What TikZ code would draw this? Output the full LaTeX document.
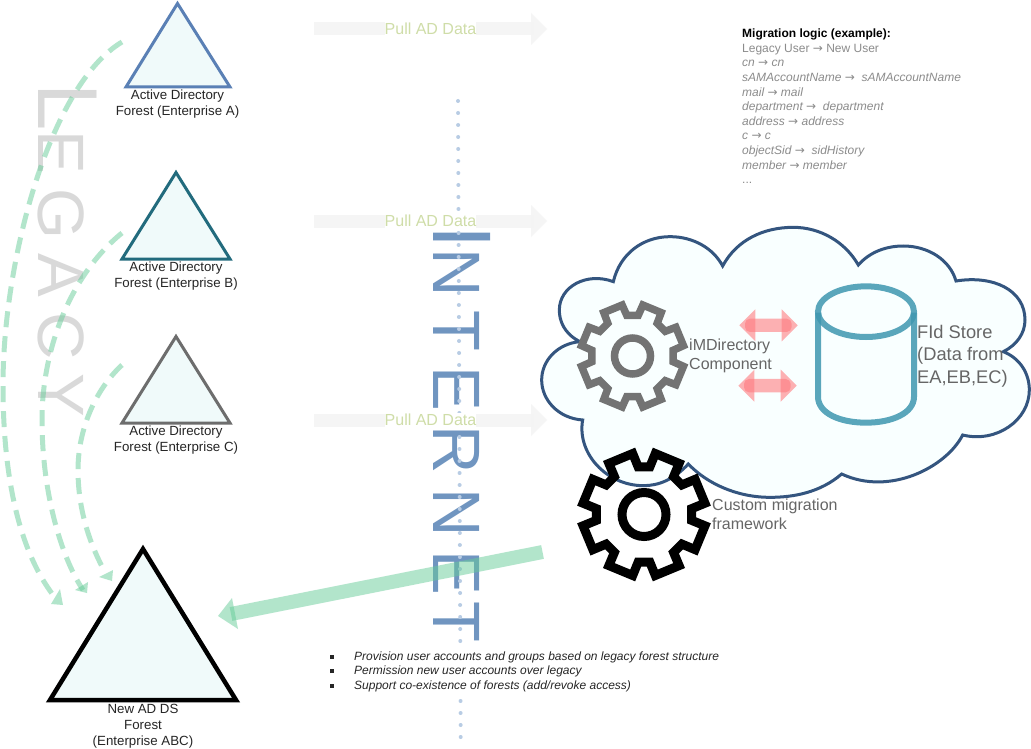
\documentclass[tikz,border=0pt]{standalone}
\usepackage{fontspec}
\setmainfont{Liberation Sans}
\newfontfamily\arrowfont{DejaVu Sans}
\newcommand{\arr}{{\arrowfont →}}
\definecolor{dashgreen}{HTML}{66CC99}
\definecolor{triafill}{HTML}{F0FAFA}
\definecolor{pullgreen}{HTML}{CFDDA8}
\definecolor{pullgrey}{HTML}{F4F4F4}
\definecolor{inetblue}{HTML}{7095C0}
\definecolor{dotblue}{HTML}{B8CCE4}
\definecolor{legacygrey}{HTML}{D9D9D9}
\definecolor{cloudedge}{HTML}{34557F}
\definecolor{cloudfill}{HTML}{F9FFFF}
\definecolor{cylcol}{HTML}{3F97B0}
\definecolor{txtgrey}{HTML}{666666}
\definecolor{logicgrey}{HTML}{8C8C8C}
\definecolor{redarrow}{HTML}{FF7C80}
\definecolor{edgea}{HTML}{5A80B5}
\definecolor{edgeb}{HTML}{226B7D}
\definecolor{edgec}{HTML}{6D6D6D}
\tikzset{
  forest/.style={line width=3pt,fill=triafill,line join=miter},
  flabel/.style={font=\fontsize{13.3}{16}\selectfont,text=black!85,align=center,inner sep=0pt},
  dashcurve/.style={draw=dashgreen,opacity=.5,line width=5pt,dash pattern=on 16pt off 9pt},
  headgreen/.style={fill=dashgreen,opacity=.5},
  pullshaft/.style={fill=pullgrey,draw=none,opacity=.85},
  pulltext/.style={font=\fontsize{16}{19}\selectfont,text=pullgreen,fill=white,inner xsep=0pt,inner ysep=1pt},
  greytext/.style={text=txtgrey,align=left,inner sep=0pt,anchor=west},
  redshaft/.style={fill=redarrow,opacity=.6},
}
\begin{document}
\begin{tikzpicture}[x=1pt,y=-1pt]
\useasboundingbox (0,0) rectangle (1031,749);
\fill[white] (0,0) rectangle (1031,749);

% LEGACY
\node[rotate=-90,anchor=base west,inner sep=0pt,text=legacygrey] (legacy) at (38,83)
  {\addfontfeature{LetterSpace=22}\fontsize{85}{90}\selectfont L\fontsize{65.5}{70}\selectfont EGACY};

% dashed curves
\coordinate (aS) at (122,42); \coordinate (aE) at (57,600);
\draw[dashcurve] (aS) .. controls (50,85) and (3,260) .. (3,385) .. controls (3,480) and (20,555) .. (aE);
\fill[headgreen] (51,604) -- (60,589) -- (63,605) -- cycle;
\coordinate (bS) at (122,233); \coordinate (bE) at (83,590);
\draw[dashcurve] (bS) .. controls (70,275) and (42,350) .. (42,420) .. controls (42,490) and (60,555) .. (bE);
\fill[headgreen] (75,590) -- (88,582) -- (87,593) -- cycle;
\coordinate (cS) at (122,365); \coordinate (cE) at (105,572);
\draw[dashcurve] (cS) .. controls (95,390) and (78,430) .. (78,470) .. controls (78,510) and (90,545) .. (cE);
\fill[headgreen] (99,577) -- (113,570) -- (112,581) -- cycle;

% forests
\draw[forest,draw=edgea] (177.5,3.5) -- (230,87) -- (126,87) -- cycle;
\draw[forest,draw=edgeb] (176,172.5) -- (230,259) -- (122,259) -- cycle;
\draw[forest,draw=edgec] (176,336.5) -- (230,423) -- (122,423) -- cycle;
\draw[forest,draw=black,line width=4.5pt] (143,549) -- (236,700) -- (50,700) -- cycle;
\node[flabel] (la) at (177.5,104) {Active Directory\\Forest (Enterprise A)};
\node[flabel] (lb) at (176,276) {Active Directory\\Forest (Enterprise B)};
\node[flabel] (lc) at (176,440) {Active Directory\\Forest (Enterprise C)};
\node[flabel] (ln) at (143,726) {New AD DS\\Forest\\(Enterprise ABC)};

% INTERNET
\node[rotate=-90,anchor=base west,inner sep=0pt,text=inetblue] (internet) at (433,225)
  {\addfontfeature{LetterSpace=21.5}\fontsize{83}{90}\selectfont I\fontsize{67}{70}\selectfont NTERNE\kern6pt T};
\coordinate (dotS) at (458,101); \coordinate (dotE) at (460.7,737);
\draw[dotblue,line width=4pt,line cap=round,dash pattern=on 0pt off 12pt] (dotS) -- (dotE);

% pull arrows
\foreach \y/\n in {29/pa,221/pb,420/pc}{
  \fill[pullshaft] (314,\y-6.5) rectangle (534,\y+6.5);
  \fill[pullshaft] (531,\y-16) -- (547,\y) -- (531,\y+16) -- cycle;
  \node[pulltext] (\n) at (430.5,\y) {Pull AD Data};
}

% migration logic
\node[anchor=north west,inner sep=0pt,align=left,text=logicgrey,font=\fontsize{12}{14.6}\selectfont] (logic) at (742,28.8)
  {\textbf{\textcolor{black}{Migration logic (example):}}\\
   Legacy User \arr\ New User\\
   \textit{cn \arr\ cn}\\
   \textit{sAMAccountName \arr\ \ sAMAccountName}\\
   \textit{mail \arr\ mail}\\
   \textit{department \arr\ \ department}\\
   \textit{address \arr\ address}\\
   \textit{c \arr\ c}\\
   \textit{objectSid \arr\ \ sidHistory}\\
   \textit{member \arr\ member}\\
   ...};

% cloud
\begin{scope}[x=.33333pt,y=-.33333pt,shift={(530pt,-220pt)}]
\draw[line width=3pt,draw=cloudedge,fill=cloudfill,line join=miter]
 (250,185) .. controls (270,100) and (340,50) .. (420,50) .. controls (490,50) and (550,85) .. (578,138)
 .. controls (620,60) and (700,22) .. (790,22) .. controls (870,22) and (945,65) .. (985,135)
 .. controls (1020,95) and (1070,78) .. (1120,78) .. controls (1195,78) and (1260,120) .. (1278,183)
 .. controls (1390,165) and (1485,210) .. (1485,300) .. controls (1485,340) and (1460,375) .. (1420,395)
 .. controls (1470,415) and (1498,460) .. (1498,510) .. controls (1498,600) and (1400,670) .. (1298,645)
 .. controls (1250,740) and (1080,830) .. (935,762)
 .. controls (870,818) and (790,832) .. (720,832) .. controls (620,832) and (530,790) .. (475,732)
 .. controls (430,780) and (385,797) .. (340,797) .. controls (230,797) and (140,700) .. (158,600)
 .. controls (85,595) and (35,540) .. (35,480) .. controls (35,420) and (85,370) .. (150,365)
 .. controls (100,340) and (88,300) .. (88,270) .. controls (88,200) and (170,155) .. (250,185) -- cycle;
% cylinder
\draw[draw=cylcol,opacity=.85,line width=6pt]
 (864,278) -- (864,530) .. controls (864,580) and (930,608) .. (1008,608)
 .. controls (1085,608) and (1152,580) .. (1152,530) -- (1152,278);
\draw[draw=cylcol,opacity=.85,line width=6pt] (1008,275) ellipse [x radius=144,y radius=76];
% red arrows
\foreach \yy/\dx in {316/0,497/-3}{
  \fill[redshaft] (628+\dx,\yy) -- (676+\dx,\yy-48) -- (676+\dx,\yy+48) -- cycle;
  \fill[redshaft] (803+\dx,\yy) -- (755+\dx,\yy-48) -- (755+\dx,\yy+48) -- cycle;
  \fill[redshaft,rounded corners=5pt] (645+\dx,\yy-20) rectangle (785+\dx,\yy+20);
}
\end{scope}

% gears
\begin{scope}[shift={(632.5,356)}]
\draw[draw=black!55,line width=7.5pt,line join=miter]
 (8:41) \foreach \a in {22.5,67.5,...,337.5}{ -- (\a-14.5:41) -- (\a-11:52) -- (\a+11:52) -- (\a+14.5:41)} -- cycle;
\draw[draw=black!55,line width=7.5pt] (0,0) circle [radius=18];
\end{scope}
\begin{scope}[shift={(644,514.5)}]
\draw[draw=black,line width=9pt,line join=miter]
 (7:48) \foreach \a in {22.5,67.5,...,337.5}{ -- (\a-15.5:48) -- (\a-12:62) -- (\a+12:62) -- (\a+15.5:48)} -- cycle;
\draw[draw=black,line width=9pt] (0,0) circle [radius=22];
\end{scope}

% cloud labels
\node[greytext,font=\fontsize{16}{19}\selectfont] (im) at (689,356) {iMDirectory\\Component};
\node[greytext,font=\fontsize{18.3}{22.3}\selectfont] (fid) at (917,356) {FId Store\\(Data from\\EA,EB,EC)};
\node[greytext,font=\fontsize{16}{19}\selectfont] (cm) at (712,514) {Custom migration\\framework};

% big green arrow
\coordinate (gS) at (542.5,552); \coordinate (gE) at (231,614);
\draw[draw=dashgreen,opacity=.5,line width=14pt] (gS) -- (gE);
\fill[headgreen] (218,616) -- (232,598) -- (238,629) -- cycle;

% bullets
\node[anchor=west,inner xsep=2pt,inner ysep=2pt,fill=white,align=left,text=black!85,font=\fontsize{12}{14.4}\selectfont] (bul) at (328,671.5)
 {\makebox[24pt][l]{\rule[1.5pt]{4pt}{4pt}}\textit{Provision user accounts and groups based on legacy forest structure}\\
  \makebox[24pt][l]{\rule[1.5pt]{4pt}{4pt}}\textit{Permission new user accounts over legacy}\\
  \makebox[24pt][l]{\rule[1.5pt]{4pt}{4pt}}\textit{Support co-existence of forests (add/revoke access)}};
\end{tikzpicture}
\end{document}
